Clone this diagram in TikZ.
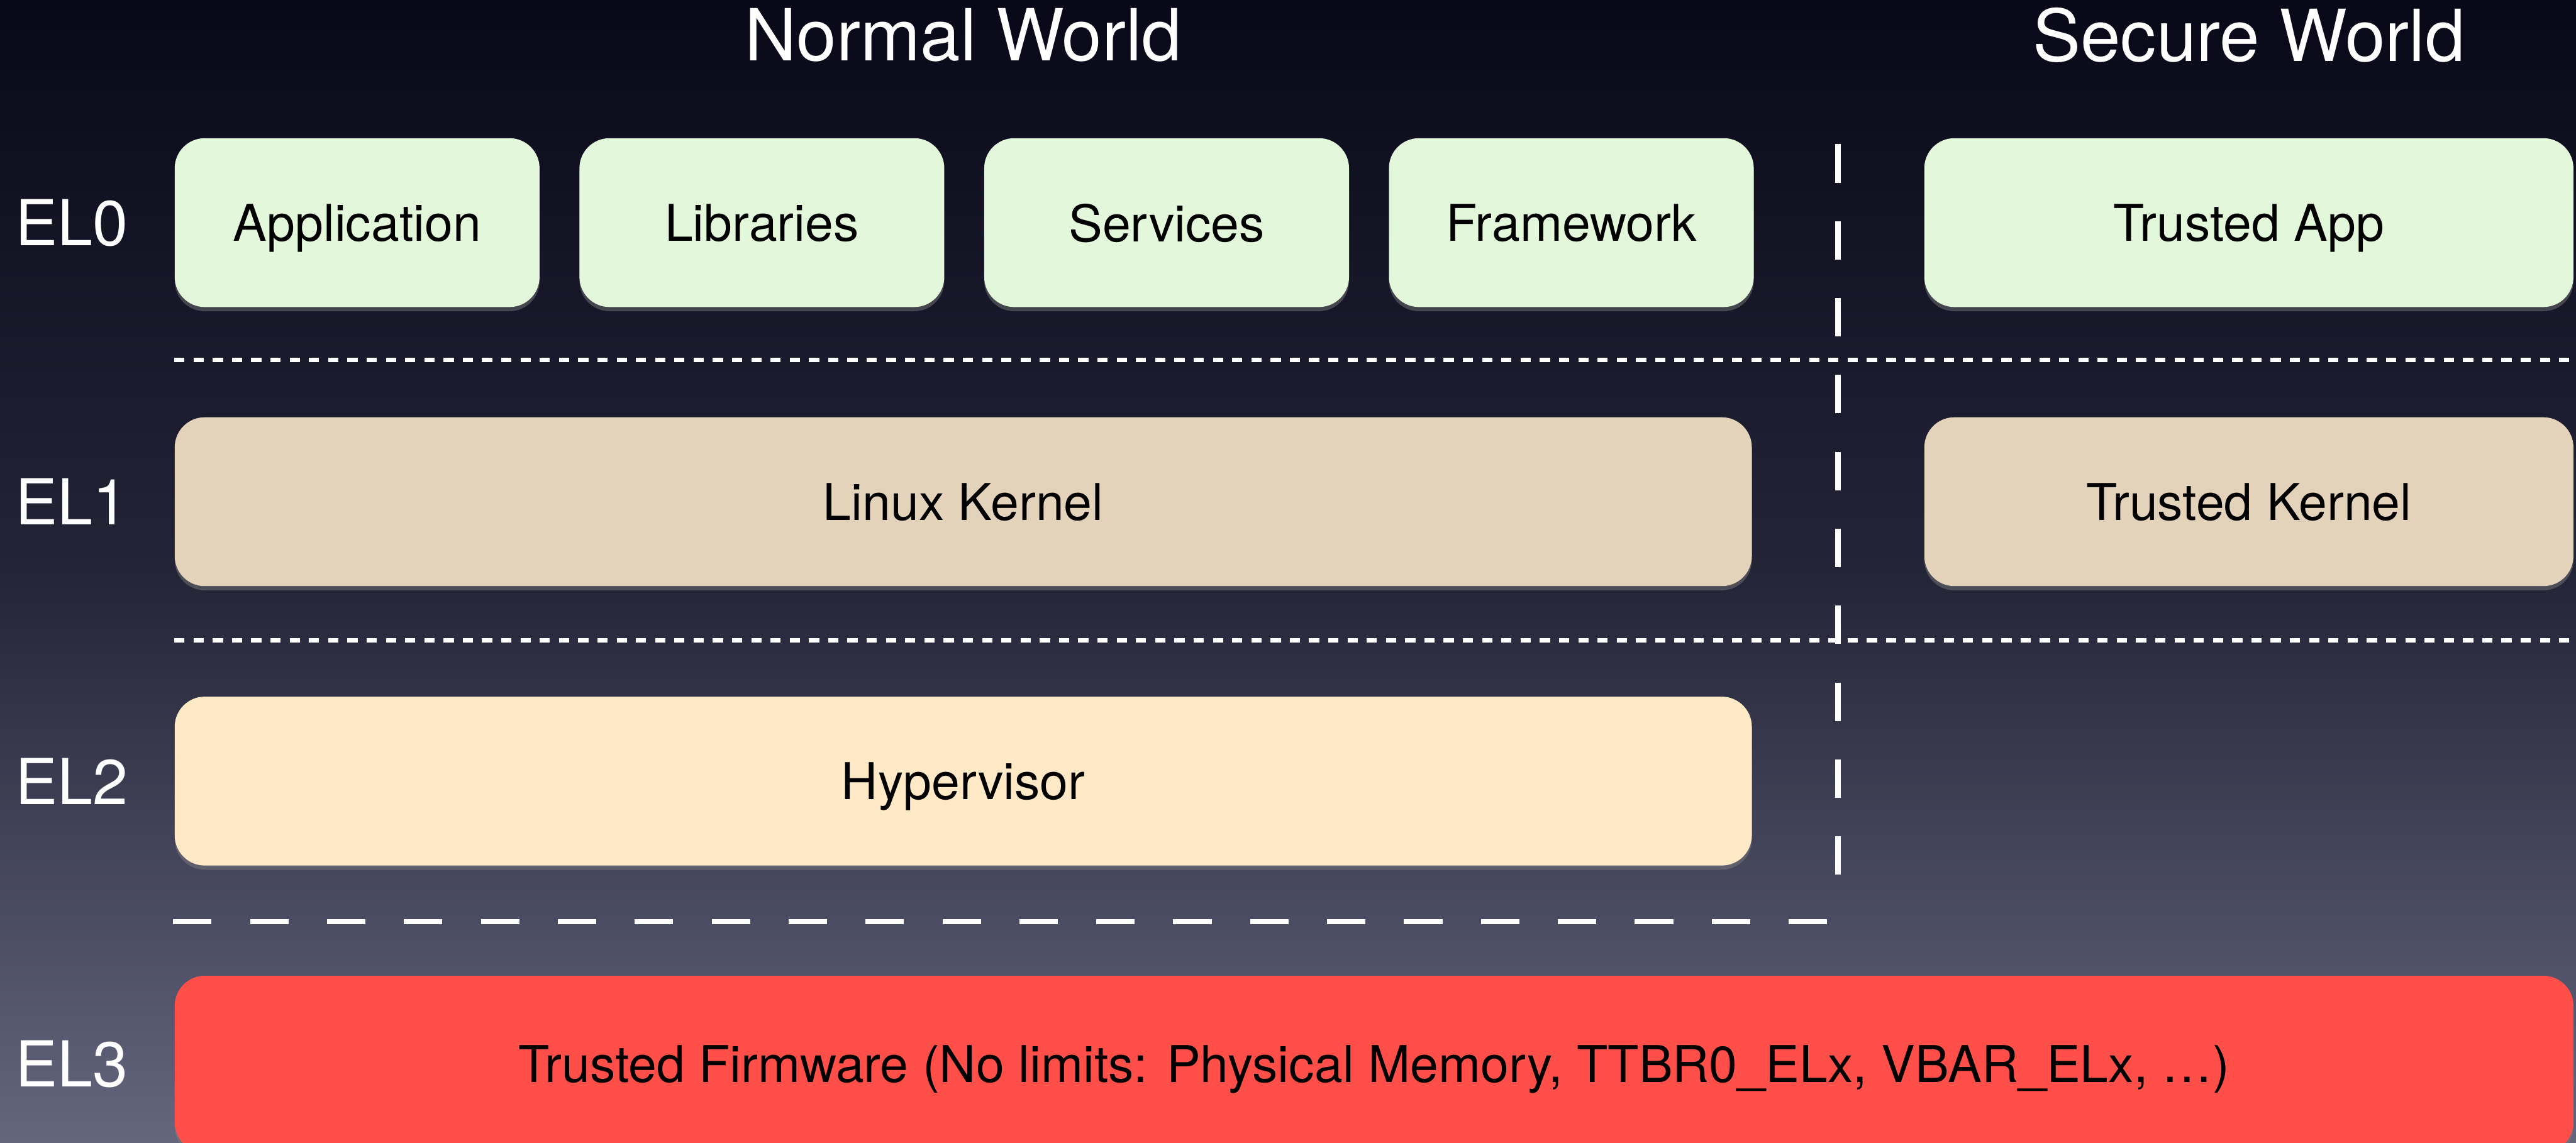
\documentclass[tikz,border=0pt]{standalone}
\usepackage{fontspec}
\setmainfont{TeX Gyre Heros}
\usepackage{xcolor}
\usepackage{tikz}
\usetikzlibrary{positioning,shadows}

\definecolor{bgtop}{RGB}{8,8,24}
\definecolor{bgbot}{RGB}{100,102,126}
\definecolor{appgreen}{RGB}{227,248,219}
\definecolor{kerntan}{RGB}{228,211,187}
\definecolor{hypcream}{RGB}{255,233,198}
\definecolor{fwred}{RGB}{255,79,72}

\begin{document}
\begin{tikzpicture}[
    layer/.style={rounded corners=0.5cm, minimum height=2.81cm, inner sep=0pt,
        font=\fontsize{24}{28}\selectfont, text=black, text depth=0pt,
        drop shadow={opacity=0.45, shadow xshift=0cm, shadow yshift=-0.07cm}},
    level/.style={anchor=west, text=white, inner sep=0pt, font=\fontsize{30}{34}\selectfont},
    world/.style={text=white, font=\fontsize{34}{40}\selectfont},
    sepdot/.style={white, line width=0.07cm, dash pattern=on 0.17cm off 0.15cm},
    sepdash/.style={white, line width=0.09cm, dash pattern=on 0.64cm off 0.64cm}
]
            % Define the background
            \useasboundingbox (0,0) rectangle (42.86,19.02);
            \clip (0,0) rectangle (42.86,19.02);
            \shade[top color=bgtop, bottom color=bgbot, middle color=bgtop!70!bgbot]
                (0,0) rectangle (42.86,19.02);

            % Define the EL0 row
            \node[layer, fill=appgreen, minimum width=6.07cm, anchor=west] (app) at (2.9,15.315) {Application};
            \node[layer, fill=appgreen, minimum width=6.07cm, right=0.65cm of app] (libs) {Libraries};
            \node[layer, fill=appgreen, minimum width=6.07cm, right=0.65cm of libs] (svc) {Services};
            \node[layer, fill=appgreen, minimum width=6.07cm, right=0.65cm of svc] (fw) {Framework};
            \node[layer, fill=appgreen, minimum width=10.8cm, anchor=west] (tapp) at (32.01,15.315) {Trusted App};

            % Define the EL1 row
            \node[layer, fill=kerntan, minimum width=26.24cm, anchor=west] (linux) at (2.9,10.67) {Linux Kernel};
            \node[layer, fill=kerntan, minimum width=10.8cm, anchor=west] (tkern) at (32.01,10.67) {Trusted Kernel};

            % Define the EL2 row
            \node[layer, fill=hypcream, minimum width=26.24cm, anchor=west] (hyp) at (2.9,6.02) {Hypervisor};

            % Define the EL3 row
            \node[layer, fill=fwred, minimum width=39.91cm, minimum height=2.94cm, anchor=west] (tfw) at (2.9,1.31)
                {Trusted Firmware (No limits: Physical Memory, TTBR0\_ELx, VBAR\_ELx, …)};

            % Add labels for the levels
            \node[level] (el0) at (0.25,15.315) {EL0};
            \node[level] (el1) at (0.25,10.67) {EL1};
            \node[level] (el2) at (0.25,6.02) {EL2};
            \node[level] (el3) at (0.25,1.31) {EL3};

            % Add the world titles
            \node[world] (normal) at (linux.center |- 0,18.44) {Normal World};
            \node[world] (secure) at (tapp.center |- 0,18.44) {Secure World};

            % Add dotted lines between the levels
            \coordinate (d0a) at (2.9,13.03);
            \coordinate (d0b) at (42.86,13.03);
            \coordinate (d1a) at (2.9,8.36);
            \coordinate (d1b) at (42.86,8.36);
            \draw[sepdot] (d0a) -- (d0b);
            \draw[sepdot] (d1a) -- (d1b);

            % Add dashed lines round the normal world
            \coordinate (vtop) at (30.58,16.62);
            \coordinate (vbot) at (30.58,4.45);
            \coordinate (hleft) at (2.88,3.68);
            \coordinate (hright) at (30.45,3.68);
            \draw[sepdash] (vtop) -- (vbot);
            \draw[sepdash] (hleft) -- (hright);
        \end{tikzpicture}
\end{document}
